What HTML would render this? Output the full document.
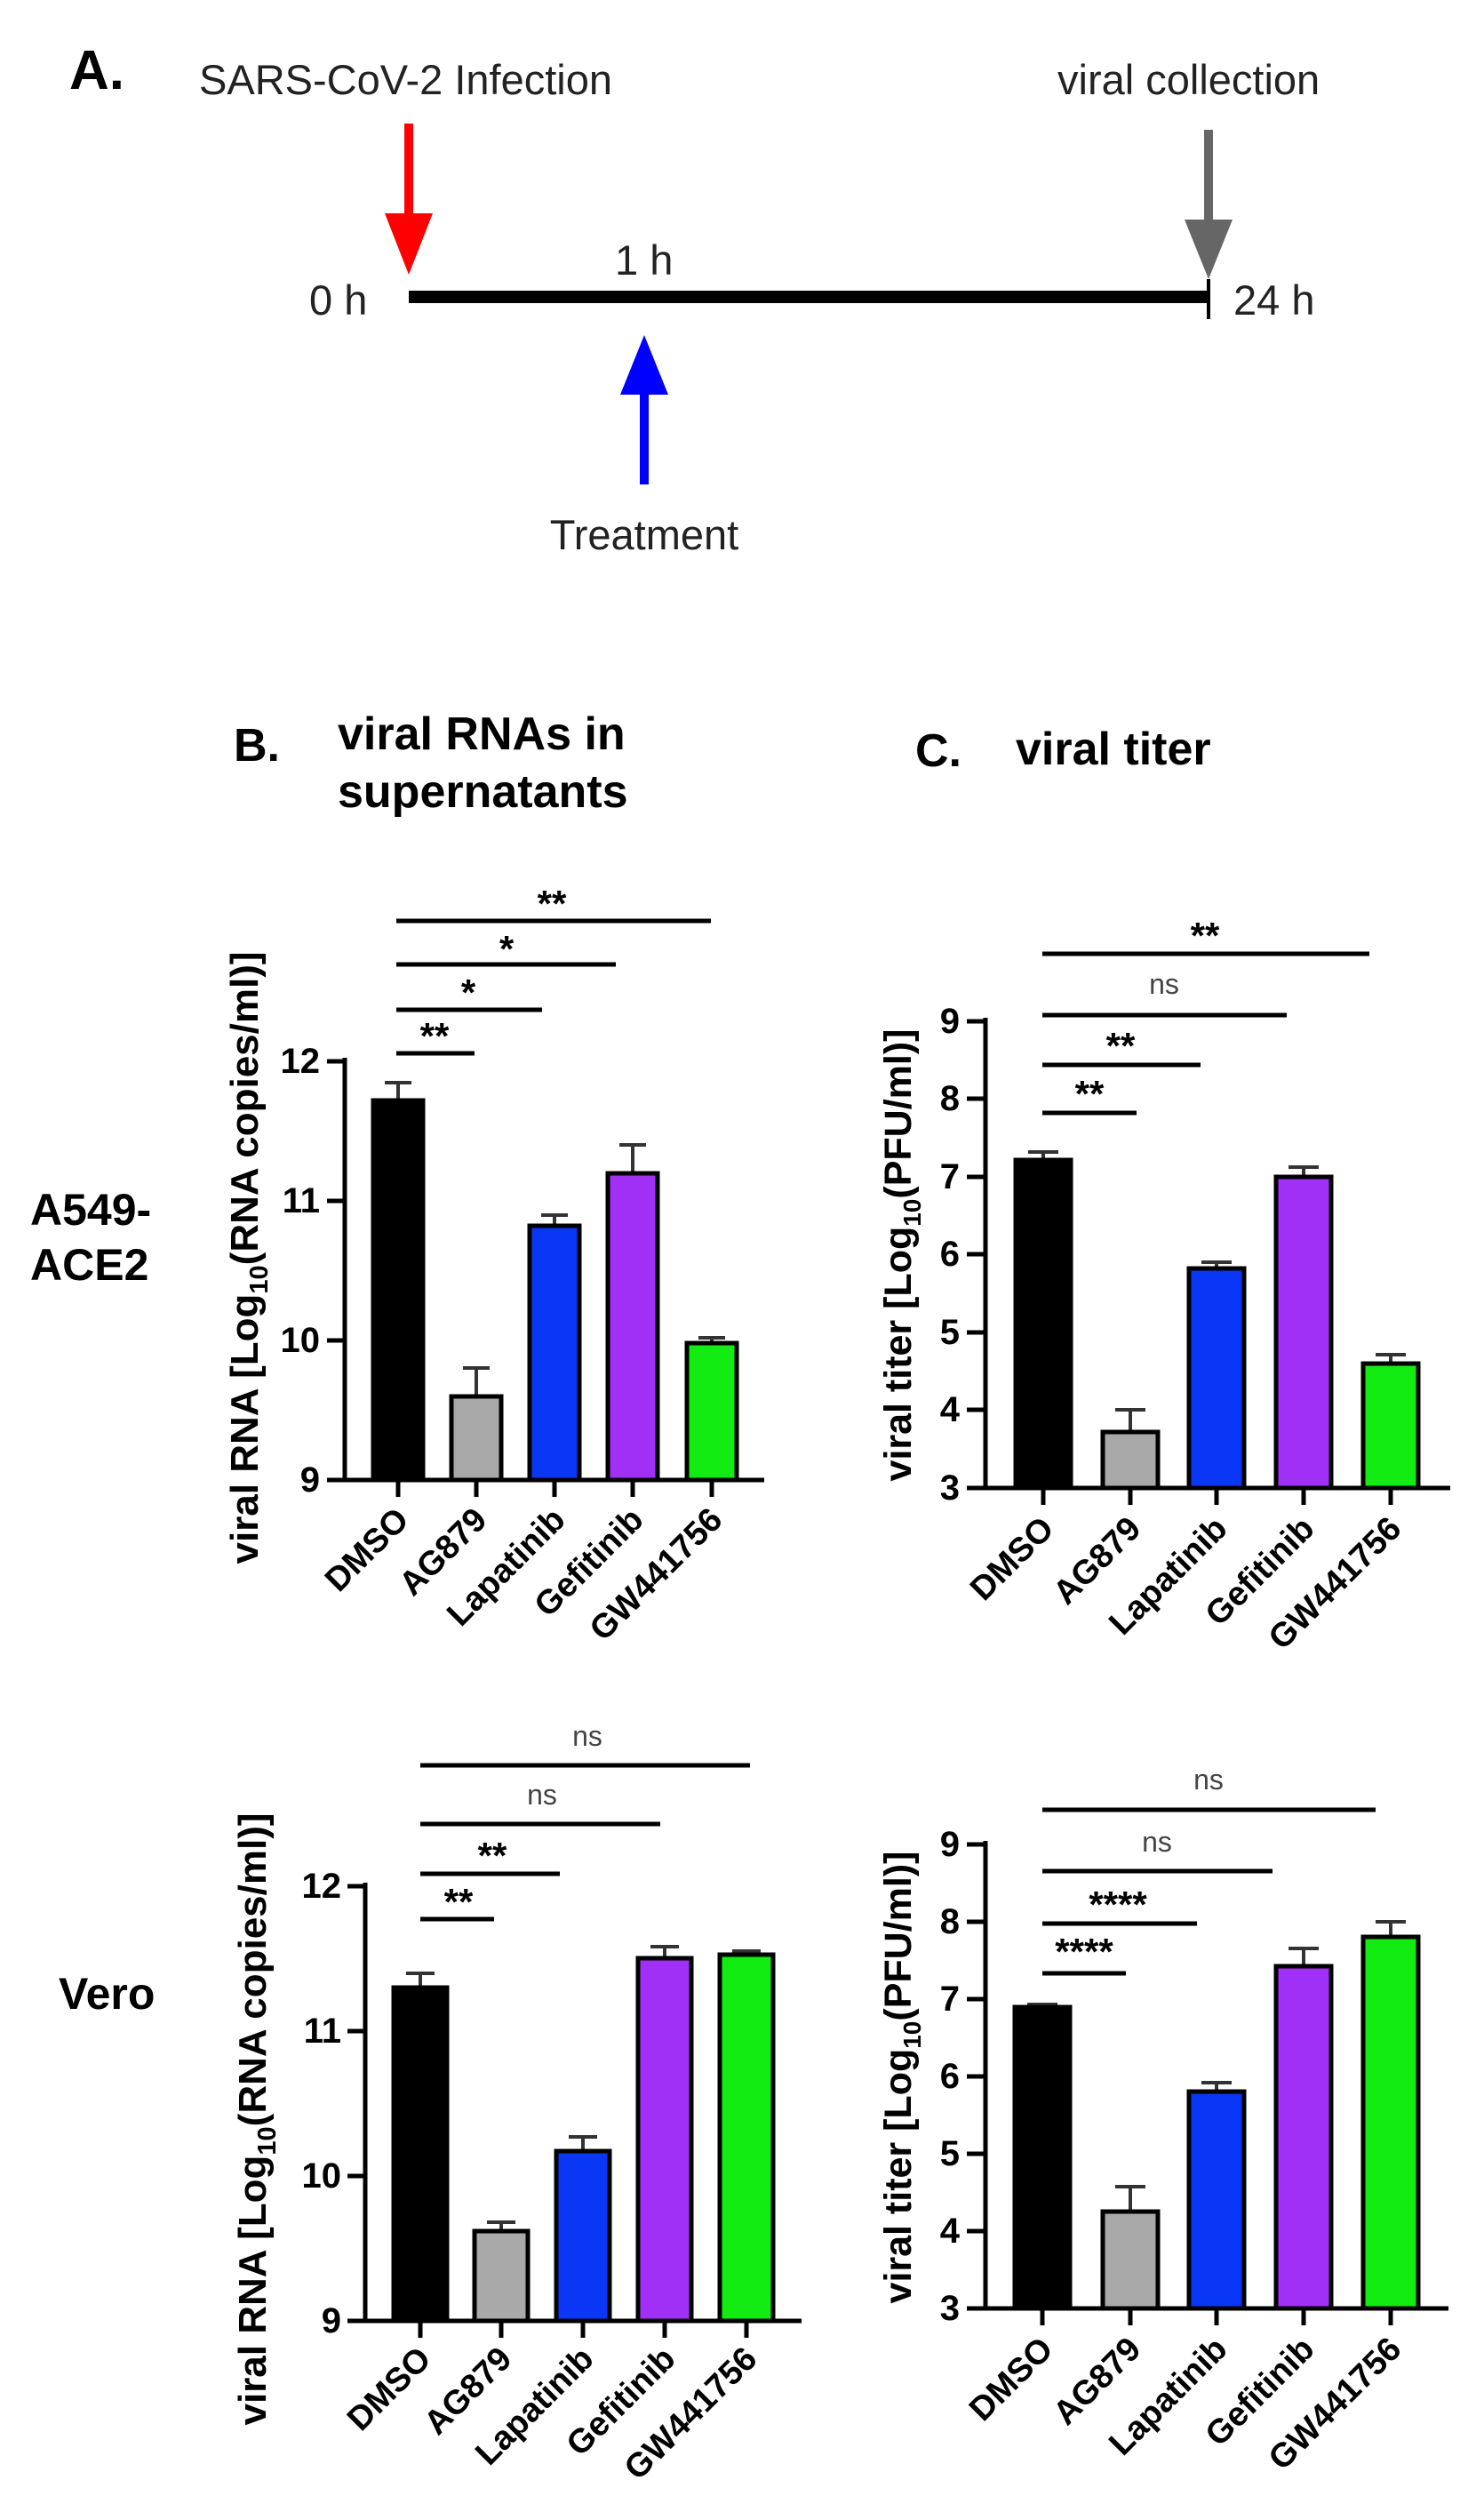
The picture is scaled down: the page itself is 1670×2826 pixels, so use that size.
<!DOCTYPE html>
<html><head><meta charset="utf-8"><style>
html,body{margin:0;padding:0;background:#fff;}
svg{display:block;font-family:"Liberation Sans",Arial,sans-serif;}
.t{font-size:47px;fill:#222;}
.tick{font-size:40px;font-weight:bold;text-anchor:end;dominant-baseline:central;}
.xl{font-size:38px;font-weight:bold;text-anchor:end;}
.yl{font-size:44px;text-anchor:middle;font-weight:bold;}
.yl2{font-size:43px;text-anchor:middle;font-weight:bold;}
.st{font-size:42px;font-weight:bold;text-anchor:middle;}
.ns{font-size:32px;text-anchor:middle;fill:#444;}
.ttl{font-size:52px;font-weight:bold;}
.row{font-size:50px;font-weight:bold;}
</style></head><body>
<svg width="1670" height="2826" viewBox="0 0 1670 2826" xmlns="http://www.w3.org/2000/svg">
<rect width="1670" height="2826" fill="#fff"/>
<text x="78" y="100" style="font-size:62px;font-weight:bold">A.</text>
<text x="224" y="106" class="t">SARS-CoV-2 Infection</text>
<text x="1190" y="106" class="t">viral collection</text>
<rect x="455" y="139" width="10" height="110" fill="#f00"/>
<polygon points="433,240 487,240 460,309" fill="#f00"/>
<rect x="1355" y="146" width="10" height="110" fill="#666"/>
<polygon points="1333,247 1387,247 1360,314" fill="#666"/>
<rect x="460" y="327" width="900" height="14" fill="#000"/>
<rect x="1358" y="314" width="4" height="45" fill="#000"/>
<text x="348" y="354" class="t">0 h</text>
<text x="692" y="309" class="t">1 h</text>
<text x="1388" y="354" class="t">24 h</text>
<rect x="720" y="440" width="10" height="105" fill="#00f"/>
<polygon points="698,444 752,444 725,377" fill="#00f"/>
<text x="725" y="618" class="t" text-anchor="middle">Treatment</text>

<text x="263" y="856" class="ttl">B.</text>
<text x="380" y="843" class="ttl">viral RNAs in</text>
<text x="380" y="908" class="ttl">supernatants</text>
<text x="1030" y="862" class="ttl">C.</text>
<text x="1143" y="860" class="ttl">viral titer</text>
<text x="34" y="1378" class="row">A549-</text>
<text x="34" y="1440" class="row">ACE2</text>
<text x="66" y="2260" class="row">Vero</text>

<g stroke="#000" stroke-width="5" fill="none">
<line x1="388" y1="1190" x2="388" y2="1667"/>
<line x1="368" y1="1665" x2="860" y2="1665"/>
<line x1="368" y1="1194" x2="388" y2="1194"/><line x1="368" y1="1351" x2="388" y2="1351"/><line x1="368" y1="1508" x2="388" y2="1508"/>
<line x1="448" y1="1665" x2="448" y2="1684"/><line x1="536" y1="1665" x2="536" y2="1684"/><line x1="624" y1="1665" x2="624" y2="1684"/><line x1="712" y1="1665" x2="712" y2="1684"/><line x1="801" y1="1665" x2="801" y2="1684"/>
<line x1="1109" y1="1145" x2="1109" y2="1676"/>
<line x1="1088" y1="1674" x2="1632" y2="1674"/>
<line x1="1088" y1="1149" x2="1109" y2="1149"/><line x1="1088" y1="1236" x2="1109" y2="1236"/><line x1="1088" y1="1324" x2="1109" y2="1324"/><line x1="1088" y1="1411" x2="1109" y2="1411"/><line x1="1088" y1="1499" x2="1109" y2="1499"/><line x1="1088" y1="1586" x2="1109" y2="1586"/>
<line x1="1174" y1="1674" x2="1174" y2="1693"/><line x1="1272" y1="1674" x2="1272" y2="1693"/><line x1="1369" y1="1674" x2="1369" y2="1693"/><line x1="1467" y1="1674" x2="1467" y2="1693"/><line x1="1565" y1="1674" x2="1565" y2="1693"/>
<line x1="411" y1="2118" x2="411" y2="2613"/>
<line x1="391" y1="2611" x2="902" y2="2611"/>
<line x1="391" y1="2122" x2="411" y2="2122"/><line x1="391" y1="2285" x2="411" y2="2285"/><line x1="391" y1="2448" x2="411" y2="2448"/>
<line x1="473" y1="2611" x2="473" y2="2630"/><line x1="564" y1="2611" x2="564" y2="2630"/><line x1="656" y1="2611" x2="656" y2="2630"/><line x1="748" y1="2611" x2="748" y2="2630"/><line x1="840" y1="2611" x2="840" y2="2630"/>
<line x1="1109" y1="2071" x2="1109" y2="2599"/>
<line x1="1088" y1="2597" x2="1630" y2="2597"/>
<line x1="1088" y1="2075" x2="1109" y2="2075"/><line x1="1088" y1="2162" x2="1109" y2="2162"/><line x1="1088" y1="2249" x2="1109" y2="2249"/><line x1="1088" y1="2336" x2="1109" y2="2336"/><line x1="1088" y1="2423" x2="1109" y2="2423"/><line x1="1088" y1="2510" x2="1109" y2="2510"/>
<line x1="1173" y1="2597" x2="1173" y2="2616"/><line x1="1272" y1="2597" x2="1272" y2="2616"/><line x1="1369" y1="2597" x2="1369" y2="2616"/><line x1="1467" y1="2597" x2="1467" y2="2616"/><line x1="1565" y1="2597" x2="1565" y2="2616"/>
<line x1="446" y1="1185" x2="534" y2="1185"/><line x1="446" y1="1136" x2="610" y2="1136"/><line x1="446" y1="1085" x2="693" y2="1085"/><line x1="446" y1="1036" x2="800" y2="1036"/>
<line x1="1173" y1="1252" x2="1279" y2="1252"/><line x1="1173" y1="1198" x2="1351" y2="1198"/><line x1="1173" y1="1142" x2="1448" y2="1142"/><line x1="1173" y1="1073" x2="1541" y2="1073"/>
<line x1="473" y1="2159" x2="556" y2="2159"/><line x1="473" y1="2108" x2="630" y2="2108"/><line x1="473" y1="2052" x2="743" y2="2052"/><line x1="473" y1="1986" x2="844" y2="1986"/>
<line x1="1173" y1="2220" x2="1267" y2="2220"/><line x1="1173" y1="2164" x2="1347" y2="2164"/><line x1="1173" y1="2105" x2="1432" y2="2105"/><line x1="1173" y1="2036" x2="1548" y2="2036"/>
</g>

<g stroke="#333" stroke-width="4">
<line x1="448" y1="1238" x2="448" y2="1218"/><line x1="433" y1="1218" x2="463" y2="1218"/>
<line x1="536" y1="1571" x2="536" y2="1539"/><line x1="521" y1="1539" x2="551" y2="1539"/>
<line x1="624" y1="1379" x2="624" y2="1367"/><line x1="609" y1="1367" x2="639" y2="1367"/>
<line x1="712" y1="1320" x2="712" y2="1288"/><line x1="697" y1="1288" x2="727" y2="1288"/>
<line x1="801" y1="1511" x2="801" y2="1505"/><line x1="786" y1="1505" x2="816" y2="1505"/>
<line x1="1174" y1="1305" x2="1174" y2="1296"/><line x1="1157" y1="1296" x2="1191" y2="1296"/>
<line x1="1272" y1="1611" x2="1272" y2="1586"/><line x1="1255" y1="1586" x2="1289" y2="1586"/>
<line x1="1369" y1="1427" x2="1369" y2="1420"/><line x1="1352" y1="1420" x2="1386" y2="1420"/>
<line x1="1467" y1="1324" x2="1467" y2="1313"/><line x1="1450" y1="1313" x2="1484" y2="1313"/>
<line x1="1565" y1="1534" x2="1565" y2="1524"/><line x1="1548" y1="1524" x2="1582" y2="1524"/>
<line x1="473" y1="2236" x2="473" y2="2220"/><line x1="457" y1="2220" x2="489" y2="2220"/>
<line x1="564" y1="2510" x2="564" y2="2500"/><line x1="548" y1="2500" x2="580" y2="2500"/>
<line x1="656" y1="2420" x2="656" y2="2404"/><line x1="640" y1="2404" x2="672" y2="2404"/>
<line x1="748" y1="2203" x2="748" y2="2190"/><line x1="732" y1="2190" x2="764" y2="2190"/>
<line x1="840" y1="2199" x2="840" y2="2195"/><line x1="824" y1="2195" x2="856" y2="2195"/>
<line x1="1173" y1="2258" x2="1173" y2="2255"/><line x1="1156" y1="2255" x2="1190" y2="2255"/>
<line x1="1272" y1="2488" x2="1272" y2="2460"/><line x1="1255" y1="2460" x2="1289" y2="2460"/>
<line x1="1369" y1="2353" x2="1369" y2="2343"/><line x1="1352" y1="2343" x2="1386" y2="2343"/>
<line x1="1467" y1="2212" x2="1467" y2="2192"/><line x1="1450" y1="2192" x2="1484" y2="2192"/>
<line x1="1565" y1="2179" x2="1565" y2="2162"/><line x1="1548" y1="2162" x2="1582" y2="2162"/>
</g>

<g stroke="#000" stroke-width="5">
<rect x="420" y="1238" width="56" height="427" fill="#000"/>
<rect x="508" y="1571" width="56" height="94" fill="#a9a9a9"/>
<rect x="596" y="1379" width="56" height="286" fill="#0a36f5"/>
<rect x="684" y="1320" width="56" height="345" fill="#a030f5"/>
<rect x="773" y="1511" width="56" height="154" fill="#12ec12"/>
<rect x="1143" y="1305" width="62" height="369" fill="#000"/>
<rect x="1241" y="1611" width="62" height="63" fill="#a9a9a9"/>
<rect x="1338" y="1427" width="62" height="247" fill="#0a36f5"/>
<rect x="1436" y="1324" width="62" height="350" fill="#a030f5"/>
<rect x="1534" y="1534" width="62" height="140" fill="#12ec12"/>
<rect x="443" y="2236" width="60" height="375" fill="#000"/>
<rect x="534" y="2510" width="60" height="101" fill="#a9a9a9"/>
<rect x="626" y="2420" width="60" height="191" fill="#0a36f5"/>
<rect x="718" y="2203" width="60" height="408" fill="#a030f5"/>
<rect x="810" y="2199" width="60" height="412" fill="#12ec12"/>
<rect x="1142" y="2258" width="62" height="339" fill="#000"/>
<rect x="1241" y="2488" width="62" height="109" fill="#a9a9a9"/>
<rect x="1338" y="2353" width="62" height="244" fill="#0a36f5"/>
<rect x="1436" y="2212" width="62" height="385" fill="#a030f5"/>
<rect x="1534" y="2179" width="62" height="418" fill="#12ec12"/>
</g>

<text class="tick" x="360" y="1194">12</text><text class="tick" x="360" y="1351">11</text><text class="tick" x="360" y="1508">10</text><text class="tick" x="360" y="1665">9</text>
<text class="tick" x="1080" y="1149">9</text><text class="tick" x="1080" y="1236">8</text><text class="tick" x="1080" y="1324">7</text><text class="tick" x="1080" y="1411">6</text><text class="tick" x="1080" y="1499">5</text><text class="tick" x="1080" y="1586">4</text><text class="tick" x="1080" y="1674">3</text>
<text class="tick" x="384" y="2122">12</text><text class="tick" x="384" y="2285">11</text><text class="tick" x="384" y="2448">10</text><text class="tick" x="384" y="2611">9</text>
<text class="tick" x="1080" y="2075">9</text><text class="tick" x="1080" y="2162">8</text><text class="tick" x="1080" y="2249">7</text><text class="tick" x="1080" y="2336">6</text><text class="tick" x="1080" y="2423">5</text><text class="tick" x="1080" y="2510">4</text><text class="tick" x="1080" y="2597">3</text>

<text class="xl" transform="translate(462,1712) rotate(-45)">DMSO</text>
<text class="xl" transform="translate(550,1712) rotate(-45)">AG879</text>
<text class="xl" transform="translate(638,1712) rotate(-45)">Lapatinib</text>
<text class="xl" transform="translate(726,1712) rotate(-45)">Gefitinib</text>
<text class="xl" transform="translate(815,1712) rotate(-45)">GW441756</text>
<text class="xl" transform="translate(1188,1722) rotate(-45)">DMSO</text>
<text class="xl" transform="translate(1286,1722) rotate(-45)">AG879</text>
<text class="xl" transform="translate(1383,1722) rotate(-45)">Lapatinib</text>
<text class="xl" transform="translate(1481,1722) rotate(-45)">Gefitinib</text>
<text class="xl" transform="translate(1579,1722) rotate(-45)">GW441756</text>
<text class="xl" transform="translate(487,2656) rotate(-45)">DMSO</text>
<text class="xl" transform="translate(578,2656) rotate(-45)">AG879</text>
<text class="xl" transform="translate(670,2656) rotate(-45)">Lapatinib</text>
<text class="xl" transform="translate(762,2656) rotate(-45)">Gefitinib</text>
<text class="xl" transform="translate(854,2656) rotate(-45)">GW441756</text>
<text class="xl" transform="translate(1187,2645) rotate(-45)">DMSO</text>
<text class="xl" transform="translate(1286,2645) rotate(-45)">AG879</text>
<text class="xl" transform="translate(1383,2645) rotate(-45)">Lapatinib</text>
<text class="xl" transform="translate(1481,2645) rotate(-45)">Gefitinib</text>
<text class="xl" transform="translate(1579,2645) rotate(-45)">GW441756</text>

<text class="yl" transform="translate(290,1415) rotate(-90)">viral RNA [Log<tspan font-size="29" dy="11">10</tspan><tspan dy="-11">(RNA copies/ml)]</tspan></text>
<text class="yl2" transform="translate(1025,1412) rotate(-90)">viral titer [Log<tspan font-size="28" dy="11">10</tspan><tspan dy="-11">(PFU/ml)]</tspan></text>
<text class="yl" transform="translate(299,2384) rotate(-90)">viral RNA [Log<tspan font-size="29" dy="11">10</tspan><tspan dy="-11">(RNA copies/ml)]</tspan></text>
<text class="yl2" transform="translate(1025,2337) rotate(-90)">viral titer [Log<tspan font-size="28" dy="11">10</tspan><tspan dy="-11">(PFU/ml)]</tspan></text>

<text class="st" x="489" y="1180">**</text>
<text class="st" x="527" y="1131">*</text>
<text class="st" x="570" y="1082">*</text>
<text class="st" x="621" y="1031">**</text>
<text class="st" x="1226" y="1245">**</text>
<text class="st" x="1261" y="1191">**</text>
<text class="ns" x="1310" y="1118">ns</text>
<text class="st" x="1356" y="1067">**</text>
<text class="st" x="516" y="2154">**</text>
<text class="st" x="554" y="2102">**</text>
<text class="ns" x="610" y="2030">ns</text>
<text class="ns" x="661" y="1964">ns</text>
<text class="st" x="1220" y="2210">****</text>
<text class="st" x="1258" y="2157">****</text>
<text class="ns" x="1302" y="2083">ns</text>
<text class="ns" x="1360" y="2013">ns</text>
</svg>
</body></html>
